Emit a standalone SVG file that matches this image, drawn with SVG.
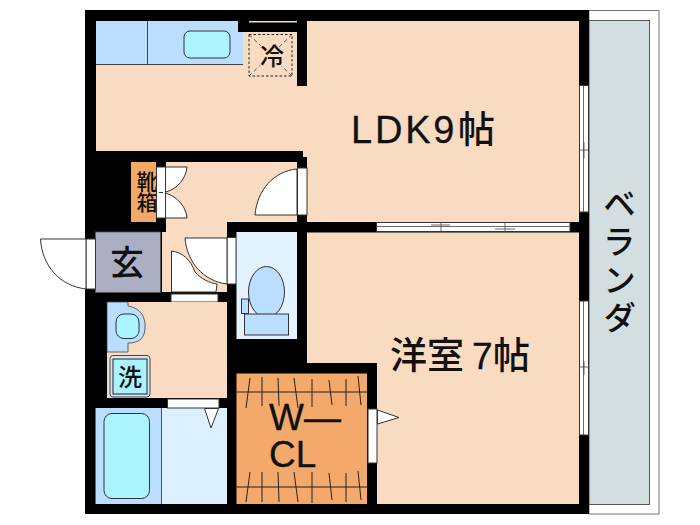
<svg xmlns="http://www.w3.org/2000/svg" width="700" height="525" viewBox="0 0 700 525">
<defs><style>
.wall{fill:#000}
.floor{fill:#f8dbc0}
.door{fill:#fff;stroke:#333;stroke-width:1}
.hatch{fill:none;stroke:#222;stroke-width:1}
.thin{fill:none;stroke:#444;stroke-width:.8}
.cjk{font-family:"Noto Sans CJK JP","Noto Sans",sans-serif;fill:#111}
.lat{font-family:"Liberation Sans",Arial,sans-serif;fill:#111;stroke:#111;stroke-width:.3}
.v{writing-mode:vertical-rl}
</style></defs>
<rect width="700" height="525" fill="#fff"/>
<g id="balcony">
<rect x="589" y="10.500" width="70" height="503.500" fill="#fff" stroke="#777"/>
<rect x="589" y="20.500" width="60.500" height="484" fill="#d2dee0" stroke="#555"/>
<text class="cjk v" font-size="33" x="619.500" y="187" letter-spacing="5" font-weight="500">ベランダ</text>
</g>
<g id="walls">
<rect class="wall" x="85" y="10" width="504" height="504"/>
</g>
<g id="ldk">
<path class="floor" d="M96 21H297V86H307V21H579V222H307V157H303V151H96Z"/>
<rect x="96" y="21" width="147" height="43.500" fill="#bbddff"/>
<path d="M96 64.500H243M147.500 21V64.500" stroke="#444" fill="none"/>
<rect x="184" y="31" width="46" height="27" rx="6" fill="#aaf3ff" stroke="#333" stroke-width="1"/>
<rect x="238" y="21" width="59" height="11" class="wall"/>
<rect x="249" y="21" width="48" height="1.500" fill="#f8dbc0"/>
<g id="fridge">
<rect x="249" y="34.500" width="43" height="41.500" fill="none" stroke="#222" stroke-dasharray="2.500 2"/>
<path d="M249 34.500L292 76M292 34.500L249 76" stroke="#333" stroke-width=".8" stroke-dasharray="4 3" fill="none"/>
<text class="cjk" font-size="24" x="260" y="65" font-weight="500" style="paint-order:stroke" stroke="#f8dbc0" stroke-width="3">冷</text>
</g>
<text class="lat" font-size="38" x="351" y="142.500" letter-spacing="2.800">LDK9</text>
<text class="cjk" font-size="37" x="458" y="143" font-weight="500">帖</text>
</g>
<g id="hall">
<path class="floor" d="M166 162H297V222H227V292H162V232H166Z"/>
<rect x="131" y="162" width="25" height="60" fill="#f4a868"/>
<text class="cjk v" font-size="21" x="147" y="171" font-weight="500">靴箱</text>
<rect class="door" x="156.500" y="167" width="9" height="51"/>
<path class="door" d="M165.500 167H187C186 178 178 189 165.500 192ZM165.500 218H187C186 207 178 197 165.500 193Z"/>
<path d="M159 192.500H163" stroke="#333"/>
<rect class="door" x="297.500" y="168" width="9.500" height="47"/>
<path class="door" d="M297 169C274 171 257 190 255 215H297Z"/>
</g>
<g id="genkan">
<rect x="95.500" y="232" width="65" height="60.500" fill="#acaec4" stroke="#555" stroke-width=".8"/>
<text class="cjk" font-size="34" x="110" y="275" font-weight="500">玄</text>
<rect class="door" x="86" y="239" width="9.500" height="50"/>
<path class="door" d="M86 239H40.500C42 266 60 286 86 289Z"/>
</g>
<g id="hall-doors">
<rect class="door" x="171" y="294" width="47" height="8"/>
<path class="door" d="M171.500 292V251C182 252 191 260 195 272C201 279 210 283 217 284L216 292Z"/>
<rect class="door" x="227" y="237.500" width="9" height="46.500"/>
<path class="door" d="M227 238H185C187 262 203 281 227 284Z"/>
</g>
<g id="toilet">
<rect x="236.500" y="232" width="60.500" height="107" fill="#e2f2ff"/>
<ellipse cx="266.500" cy="292" rx="18" ry="25.500" fill="#bbddff" stroke="#333"/>
<rect x="241.500" y="299" width="7" height="14.500" fill="#bbddff" stroke="#333"/>
<rect x="244.500" y="314" width="44" height="21" fill="#bbddff" stroke="#333"/>
</g>
<g id="washroom">
<rect class="floor" x="107" y="302" width="120" height="96"/>
<path d="M107 302H128V306C140 308 146 316 145 329C144 341 136 343 128 343V352H107Z" fill="#bbddff" stroke="#444" stroke-width=".8"/>
<rect x="116" y="314" width="23" height="24.500" rx="8" fill="#aaf3ff" stroke="#333"/>
<rect x="110" y="355.500" width="40" height="41.500" rx="3" fill="#cfe8f8" stroke="#444"/>
<rect x="113" y="359" width="34" height="35" fill="#aaf3ff" stroke="#222"/>
<text class="cjk" font-size="24" x="118" y="386" font-weight="500">洗</text>
</g>
<g id="bath">
<rect x="95.500" y="408" width="66" height="96" fill="#bbddff"/>
<rect x="161.500" y="408" width="65.500" height="96" fill="#ddf0ff"/>
<path d="M161.500 408V504" stroke="#555"/>
<rect x="104" y="413.500" width="45.500" height="85" rx="8" fill="#aaf3ff" stroke="#333"/>
<rect class="door" x="167.500" y="399" width="51.500" height="9"/>
<path class="door" d="M204.500 408.500H218.500L211 428Z"/>
</g>
<g id="bedroom">
<path class="floor" d="M307 232.500H579V504H377V363H307Z"/>
<text class="cjk" font-size="37" x="390" y="369" font-weight="500">洋室</text>
<text class="lat" font-size="37" x="472" y="369">7</text>
<text class="cjk" font-size="37" x="493" y="369" font-weight="500">帖</text>
</g>
<g id="wcl">
<rect x="236.500" y="373.500" width="130.500" height="130.500" fill="#f3a969"/>
<path class="hatch" d="M236.500 392H367M236.500 487H367M250 378L246 408M262 377V406M278 378L279 406M294 378L298 408M312 379V407M329 380L332 405M346 379V406M358 376L361 405M250 472L246 502M262 472V502M278 472L279 502M294 472L298 502M312 472V503M329 473L332 500M346 473V502M358 471L361 500"/>
<rect class="door" x="368" y="409" width="9" height="54"/>
<path class="door" d="M377.500 410L399 417.500L377.500 424Z"/>
<text class="lat" font-size="37"><tspan x="269" y="430">W—</tspan><tspan x="269" y="467">CL</tspan></text>
</g>
<g id="windows">
<rect class="door" x="579.500" y="85.500" width="9" height="126.500"/>
<path class="thin" d="M583.500 85.500V212M580 150H588M584 142V158"/>
<rect class="door" x="579.500" y="301" width="9" height="134"/>
<path class="thin" d="M583.500 301V435M580 367H588M584 361V375"/>
<rect class="door" x="376.500" y="222.500" width="193.500" height="9"/>
<path class="thin" d="M376.500 226.500H570M441 222.500V231.500M505 222.500V231.500M431 225H450M495 229H515"/>
</g>
</svg>
